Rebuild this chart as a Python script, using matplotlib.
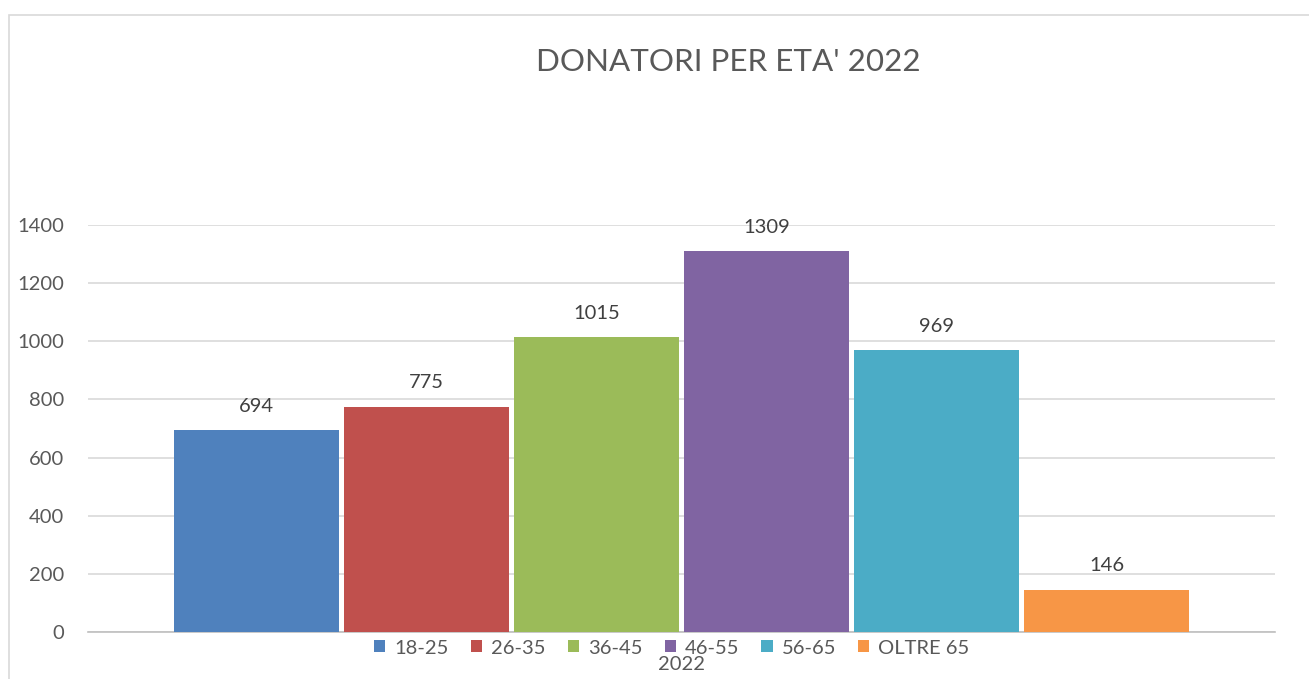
import matplotlib.pyplot as plt
from matplotlib.patches import Rectangle

# dati
fasce = ['18-25', '26-35', '36-45', '46-55', '56-65', 'OLTRE 65']
donatori = [694, 775, 1015, 1309, 969, 146]
colori = ['#4F81BD', '#C0504D', '#9BBB59', '#8064A2', '#4BACC6', '#F79646']
anno = '2022'

plt.rcParams['font.family'] = ['Lato', 'DejaVu Sans']
testo = '#595959'

W, H = 1309, 679
fig = plt.figure(figsize=(W / 100, H / 100), dpi=100)
ax = fig.add_axes([88 / W, 1 - 632 / H, 1187 / W, (632 - 225) / H])

# cornice esterna
fig.patches.append(Rectangle((9 / W, -0.1), 1.2, 1 - 15 / H + 0.1,
                             transform=fig.transFigure, fill=False,
                             edgecolor='#d9d9d9', linewidth=1.2))

step = 170 / 1187
larg = 165 / 1187
n = len(fasce)
for i, (f, v, c) in enumerate(zip(fasce, donatori, colori)):
    x = (i - (n - 1) / 2) * step
    b = ax.bar(x, v, width=larg, color=c, label=f, zorder=3)
    ax.bar_label(b, padding=11, fontsize=14.5, color='#404040')

ax.set_xlim(-0.5, 0.5)
ax.set_ylim(0, 1400)
ax.set_yticks(range(0, 1401, 200))
ax.yaxis.grid(True, color='#d9d9d9', linewidth=1.2, zorder=0)
ax.set_xticks([0], [anno])
ax.tick_params(axis='x', length=0, pad=17, labelsize=14.5, labelcolor=testo)
ax.tick_params(axis='y', length=0, pad=17, labelsize=14.5, labelcolor=testo)
for s in ['top', 'right', 'left']:
    ax.spines[s].set_visible(False)
ax.spines['bottom'].set_color('#bfbfbf')
ax.spines['bottom'].set_linewidth(1.2)

fig.text(728 / W, 1 - 62 / H, "DONATORI PER ETA' 2022", ha='center', va='center',
         fontsize=22.6, color=testo)

fig.legend(loc='center', bbox_to_anchor=(672 / W, 1 - 648 / H), ncol=6,
           frameon=False, fontsize=14.5, labelcolor=testo, handlelength=0.55,
           handleheight=0.55, handletextpad=0.45, columnspacing=1.1)

fig.savefig('out.png', dpi=100)
